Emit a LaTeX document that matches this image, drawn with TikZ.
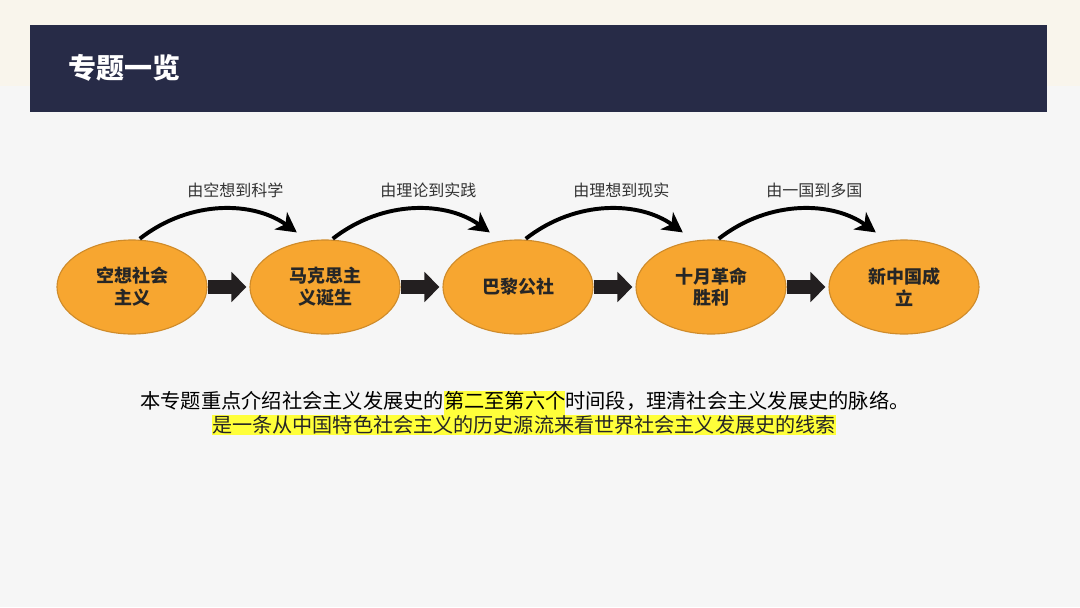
\documentclass[tikz,border=0pt]{standalone}
\usepackage{fontspec}
\setmainfont{Noto Sans CJK SC}
\usetikzlibrary{arrows.meta,shapes.geometric}
\definecolor{sfondo}{HTML}{F6F6F6}
\definecolor{crema}{HTML}{F9F5EC}
\definecolor{testata}{HTML}{272B47}
\definecolor{arancio}{HTML}{F7A630}
\definecolor{bordo}{HTML}{CF8B2A}
\definecolor{freccia}{HTML}{231F20}
\definecolor{evidenza}{HTML}{FFFF3A}
\tikzset{
  tappa/.style={ellipse, draw=bordo, line width=0.8pt, fill=arancio,
    minimum width=150*0.025cm, minimum height=94*0.025cm, inner sep=0pt,
    align=center, font=\bfseries\fontsize{12.8}{15.6}\selectfont, text=black!85},
  blocco/.style={draw=freccia, line width=10.5pt,
    -{Triangle[length=10.7pt, width=21pt]}, shorten >=3*0.025cm},
  arco/.style={draw=black, line width=2.8pt, -{Stealth[length=14pt, width=15pt, inset=4pt]},
    shorten <=1pt, shorten >=14*0.025cm},
  motto/.style={font=\fontsize{11.4}{13}\selectfont, text=black!80}
}
\begin{document}
\begin{tikzpicture}[x=0.025cm, y=-0.025cm]
  % Sfondo e testata
  \fill[sfondo] (0,0) rectangle (1080,607);
  \fill[crema] (0,0) rectangle (1080,86);
  \useasboundingbox (0,0) rectangle (1080,607);
  \fill[testata] (30,25) rectangle (1047,112);
  \node[anchor=west, text=white, font=\bfseries\fontsize{19.9}{22}\selectfont] (titolo) at (64,68) {专题一览};
  % Tappe
  \node[tappa] (t1) at (132,287) {空想社会\\主义};
  \node[tappa] (t2) at (325,287) {马克思主\\义诞生};
  \node[tappa] (t3) at (518,287) {巴黎公社};
  \node[tappa] (t4) at (711,287) {十月革命\\胜利};
  \node[tappa] (t5) at (904,287) {新中国成\\立};
  % Frecce tra le tappe
  \foreach \a/\b in {t1/t2, t2/t3, t3/t4, t4/t5}
    \draw[blocco] (\a.east) -- (\b.west);
  % Archi con i motti
  \foreach \a/\b/\testo in {t1/t2/由空想到科学, t2/t3/由理论到实践, t3/t4/由理想到现实, t4/t5/由一国到多国}{
    \draw[arco] (\a.82) to[out=38, in=144] (\b.110);
    \path (\a.82) -- (\b.110) node[midway, xshift=12*0.025cm, yshift=50*0.025cm, motto] (m\a) {\testo};
  }
  % Testo in basso
  \node[font=\fontsize{14.4}{17}\selectfont] (riga1) at (525,403)
    {本专题重点介绍社会主义发展史的{\setlength{\fboxsep}{0pt}\colorbox{evidenza}{\strut 第二至第六个}}时间段，理清社会主义发展史的脉络。};
  \node[fill=evidenza, inner sep=0.5pt, font=\fontsize{14.3}{17}\selectfont, text=black!85] (riga2) at (524,425)
    {是一条从中国特色社会主义的历史源流来看世界社会主义发展史的线索};
\end{tikzpicture}
\end{document}
